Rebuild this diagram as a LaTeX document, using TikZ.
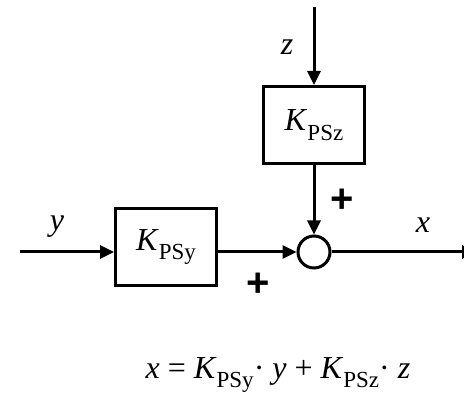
\documentclass[tikz,border=0pt]{standalone}
\usepackage{fontspec}
\setmainfont{Liberation Serif}
\newfontfamily\plusfont{Liberation Sans}
\usetikzlibrary{arrows.meta}
\newcommand{\gain}[1]{\textit{K}\raisebox{-0.3em}{\fontsize{23pt}{23pt}\selectfont #1}}
\begin{document}
\begin{tikzpicture}
[x=1pt, y=1pt, node distance=148pt, font={\fontsize{32pt}{34pt}\selectfont}, line width=3pt, >={Triangle[length=14pt,width=13pt]}]
\tikzstyle{block}=[rectangle, draw, minimum width=101pt, minimum height=77pt, inner sep=0pt]
\tikzstyle{sum}=[circle, draw, minimum size=32pt, inner sep=0pt]
\tikzstyle{sign}=[font={\plusfont\bfseries\fontsize{40pt}{40pt}\selectfont}]
\useasboundingbox (0,0) rectangle (464,398);

\node[sum]	(S)	at (314,146)	{};
\node[block]	(Ky)	[left of=S, yshift=5pt]	{\gain{PSy}};
\node[block]	(Kz)	[above of=S, node distance=127pt]	{\gain{PSz}};

\coordinate (yin)  at (20,146);
\coordinate (zin)  at (314,391);
\coordinate (xout) at (476,146);

\node (ylab)	at (57,171)	{\textit{y}};
\node (zlab)	at (287,351)	{\textit{z}};
\node (xlab)	at (423,173)	{\textit{x}};
\node[sign] (plusy)	at (258,113)	{+};
\node[sign] (plusz)	at (342,197)	{+};

\node (eq) at (278,23) {\textit{x} = \gain{PSy}\textperiodcentered\ \textit{y} + \gain{PSz}\textperiodcentered\ \textit{z}};

\draw[->] (yin) -- (yin -| Ky.west);
\draw[->] (Ky.east |- S) -- (S);
\draw[->] (zin) -- (Kz);
\draw[->] (Kz) -- (S);
\draw[->] (S) -- (xout);
\end{tikzpicture}
\end{document}
